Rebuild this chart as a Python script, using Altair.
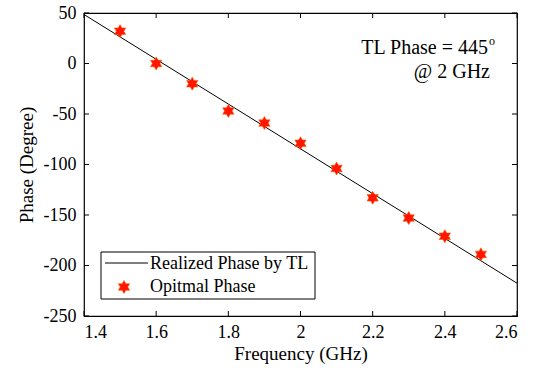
import altair as alt
import pandas as pd

# ---- data ----
freq_pts = [1.5, 1.6, 1.7, 1.8, 1.9, 2.0, 2.1, 2.2, 2.3, 2.4, 2.5]
phase_pts = [32, 0, -20, -47, -59, -79, -104, -133, -153, -171, -189]
line_freq = [1.4, 2.6]
line_phase = [48.5, -217.5]
x_ticks = [1.4, 1.6, 1.8, 2.0, 2.2, 2.4, 2.6]
y_ticks = [-250, -200, -150, -100, -50, 0, 50]
legend_labels = ["Realized Phase by TL", "Opitmal Phase"]
annot_main = "TL Phase = 445"
annot_sup = "o"
annot_sub = "@ 2 GHz"

W, H = 433, 303
FONT = "Liberation Serif"
HEX = ("M0,-1L0.289,-0.5L0.866,-0.5L0.577,0L0.866,0.5L0.289,0.5L0,1"
       "L-0.289,0.5L-0.866,0.5L-0.577,0L-0.866,-0.5L-0.289,-0.5Z")

xscale = alt.Scale(domain=[1.4, 2.6], nice=False, zero=False)
yscale = alt.Scale(domain=[-250, 50], nice=False, zero=False)

pts = pd.DataFrame({"f": freq_pts, "p": phase_pts})
ln = pd.DataFrame({"f": line_freq, "p": line_phase})
xt = pd.DataFrame({"f": x_ticks})
yt = pd.DataFrame({"p": y_ticks})

xaxis = alt.Axis(values=x_ticks, format="~g", ticks=False, domain=False, grid=False,
                 labelFont=FONT, labelFontSize=18, labelColor="black", labelPadding=7,
                 title="Frequency (GHz)", titleFont=FONT, titleFontSize=19,
                 titleFontWeight="normal", titleColor="black", titlePadding=3)
yaxis = alt.Axis(values=y_ticks, ticks=False, domain=False, grid=False,
                 labelExpr="toString(datum.value)",
                 labelFont=FONT, labelFontSize=18, labelColor="black", labelPadding=8,
                 title="Phase (Degree)", titleFont=FONT, titleFontSize=19,
                 titleFontWeight="normal", titleColor="black", titlePadding=7)

line = alt.Chart(ln).mark_line(color="black", strokeWidth=1).encode(
    x=alt.X("f:Q", scale=xscale, axis=xaxis),
    y=alt.Y("p:Q", scale=yscale, axis=yaxis),
)

stars = alt.Chart(pts).mark_point(shape=HEX, size=170, filled=True, fill="#ff1500",
                                  stroke="#ff5a00", strokeWidth=0.6, opacity=1).encode(
    x=alt.X("f:Q", scale=xscale), y=alt.Y("p:Q", scale=yscale))

tick_bottom = alt.Chart(xt).mark_rule(color="black", strokeWidth=1).encode(
    x=alt.X("f:Q", scale=xscale), y=alt.value(H), y2=alt.value(H - 5))
tick_top = alt.Chart(xt).mark_rule(color="black", strokeWidth=1).encode(
    x=alt.X("f:Q", scale=xscale), y=alt.value(0), y2=alt.value(5))
tick_left = alt.Chart(yt).mark_rule(color="black", strokeWidth=1).encode(
    y=alt.Y("p:Q", scale=yscale), x=alt.value(0), x2=alt.value(5))
tick_right = alt.Chart(yt).mark_rule(color="black", strokeWidth=1).encode(
    y=alt.Y("p:Q", scale=yscale), x=alt.value(W), x2=alt.value(W - 5))

# annotation
ann1 = alt.Chart(pd.DataFrame({"t": [annot_main]})).mark_text(
    font=FONT, fontSize=20, align="right", baseline="alphabetic", color="black").encode(
    text="t:N", x=alt.value(404), y=alt.value(41))
ann_sup = alt.Chart(pd.DataFrame({"t": [annot_sup]})).mark_text(
    font=FONT, fontSize=12, align="left", baseline="alphabetic", color="black").encode(
    text="t:N", x=alt.value(405), y=alt.value(32))
ann2 = alt.Chart(pd.DataFrame({"t": [annot_sub]})).mark_text(
    font=FONT, fontSize=20, align="right", baseline="alphabetic", color="black").encode(
    text="t:N", x=alt.value(406), y=alt.value(65))

# legend
leg_df = pd.DataFrame({"t": [legend_labels[0]]})
leg_box = alt.Chart(leg_df).mark_rect(fill="white", stroke="black", strokeWidth=1).encode(
    x=alt.value(17), x2=alt.value(231), y=alt.value(239), y2=alt.value(286))
leg_line = alt.Chart(leg_df).mark_rule(color="black", strokeWidth=1).encode(
    x=alt.value(21), x2=alt.value(64), y=alt.value(250))
leg_star = alt.Chart(leg_df).mark_point(shape=HEX, size=170, filled=True, fill="#ff1500",
                                        stroke="#ff5a00", strokeWidth=0.6, opacity=1).encode(
    x=alt.value(40), y=alt.value(274))
leg_t1 = alt.Chart(pd.DataFrame({"t": [legend_labels[0]]})).mark_text(
    font=FONT, fontSize=18, align="left", baseline="middle", color="black").encode(
    text="t:N", x=alt.value(66), y=alt.value(251))
leg_t2 = alt.Chart(pd.DataFrame({"t": [legend_labels[1]]})).mark_text(
    font=FONT, fontSize=18, align="left", baseline="middle", color="black").encode(
    text="t:N", x=alt.value(66), y=alt.value(274))

chart = alt.layer(
    line, stars, tick_bottom, tick_top, tick_left, tick_right,
    ann1, ann_sup, ann2, leg_box, leg_line, leg_star, leg_t1, leg_t2
).properties(
    width=W, height=H,
    autosize=alt.AutoSizeParams(type="none"),
    padding={"left": 84, "top": 13, "right": 18, "bottom": 59},
    background="white",
).configure_view(stroke="black", strokeWidth=1.2)

chart.save("out.html", embed_options={"renderer": "svg", "actions": False})
